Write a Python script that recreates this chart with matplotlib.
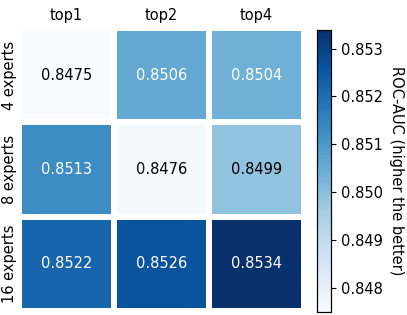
import matplotlib
matplotlib.use("Agg")
import matplotlib.pyplot as plt
import seaborn as sns
import numpy as np

cols = ["top1", "top2", "top4"]
rows = ["4 experts", "8 experts", "16 experts"]
vals = [
    [0.8475, 0.8506, 0.8504],
    [0.8513, 0.8476, 0.8499],
    [0.8522, 0.8526, 0.8534],
]

FS = 10.5
W, H = 407, 315
fig = plt.figure(figsize=(W / 100, H / 100), dpi=100)
ax = fig.add_axes([19 / W, 4 / H, 285 / W, 283 / H])
cax = fig.add_axes([316.5 / W, 3.5 / H, 14.5 / W, 282 / H])

sns.heatmap(np.array(vals), ax=ax, cbar_ax=cax, cmap="Blues", annot=True, fmt=".4f",
            linewidths=3, linecolor="white", xticklabels=cols, yticklabels=rows,
            annot_kws={"fontsize": FS})
for t in ax.texts:
    if t.get_color() != "w" and t.get_color() != "white":
        t.set_color("black")
ax.xaxis.tick_top()
ax.tick_params(length=0, labelsize=FS, colors="black")
ax.tick_params(axis="y", pad=1.5)
ax.set_yticklabels(rows, rotation=90, va="center")
ax.set_xticklabels(cols, rotation=0)
cax.tick_params(labelsize=FS, colors="black")
cax.set_yticks([0.848, 0.849, 0.850, 0.851, 0.852, 0.853])
cax.set_ylabel("ROC-AUC (higher the better)", rotation=270, labelpad=15, fontsize=FS)
for s in cax.spines.values():
    s.set_visible(True)
    s.set_linewidth(0.8)

fig.savefig("out.png", dpi=100)
